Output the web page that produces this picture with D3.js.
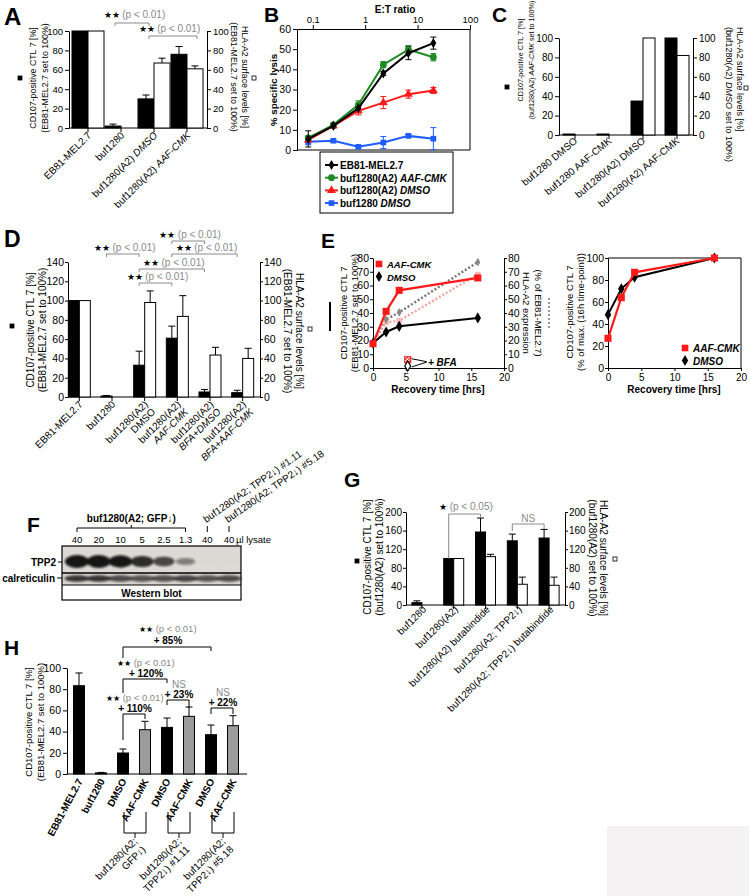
<!DOCTYPE html>
<html>
<head>
<meta charset="utf-8">
<script src="https://cdn.jsdelivr.net/npm/d3@7/dist/d3.min.js"></script>
<style>
html,body{margin:0;padding:0;background:#fff;}
svg{display:block;}
</style>
</head>
<body>
<div id="chart"></div>
<script>
// ================= DATA =================
// Panel A
const aCats = ["EB81-MEL2.7", "buf1280", "buf1280(A2) DMSO", "buf1280(A2) AAF-CMK"];
const aLabelPlain = ["EB81-MEL2.7", "buf1280", "buf1280(A2) ", "buf1280(A2) "];
const aLabelItalic = ["", "", "DMSO", "AAF-CMK"];
const aCD107 = [100, 2, 30, 76];
const aCD107Err = [0, 2, 4, 8];
const aHLA = [100, 0, 67, 61];
const aHLAErr = [0, 0, 5, 3];
const aTicks = [0, 20, 40, 60, 80, 100];

// Panel B
const bRatio = [0.082, 0.247, 0.74, 2.22, 6.67, 20];
const bNamePlain = ["EB81-MEL2.7", "buf1280(A2) ", "buf1280(A2) ", "buf1280 "];
const bNameItalic = ["", "AAF-CMK", "DMSO", "DMSO"];
const bEB81 = [5.5, 12, 20.7, 38, 48, 53];
const bEB81Err = [4, 1, 1.5, 1, 3.2, 3];
const bAAF = [6, 12.5, 22.4, 42.3, 49.8, 46];
const bAAFErr = [1, 1, 2, 1.5, 2, 1.8];
const bDMSO = [5, 12, 19.4, 23.5, 27.7, 29.5];
const bDMSOErr = [1.5, 1, 2, 3, 2, 1.5];
const bBuf = [4.1, 4.6, 1.6, 3.7, 7, 5.6];
const bBufErr = [1.5, 0.6, 0.6, 3, 0.8, 5.5];
const bXTicks = [0.1, 1, 10, 100];
const bYTicks = [0, 10, 20, 30, 40, 50, 60];

// Panel C
const cCats = ["buf1280 DMSO", "buf1280 AAF-CMK", "buf1280(A2) DMSO", "buf1280(A2) AAF-CMK"];
const cCD107 = [1, 1, 35, 100];
const cHLA = [0, 0, 100, 82];
const cTicks = [0, 20, 40, 60, 80, 100];

// Panel D
const dCats = ["EB81-MEL2.7", "buf1280", "buf1280(A2) DMSO", "buf1280(A2) AAF-CMK", "buf1280(A2) BFA+DMSO", "buf1280(A2) BFA+AAF-CMK"];
const dLine1 = ["EB81-MEL2.7", "buf1280", "buf1280(A2)", "buf1280(A2)", "buf1280(A2)", "buf1280(A2)"];
const dLine2 = ["", "", "DMSO", "AAF-CMK", "BFA+DMSO", "BFA+AAF-CMK"];
const dLine2Italic = [false, false, false, true, true, true];
const dCD107 = [100, 1, 33, 61, 5.2, 4.5];
const dCD107Err = [0, 0.5, 14.5, 12.5, 2.5, 2.5];
const dHLA = [100, 0, 98, 83.6, 43.5, 40];
const dHLAErr = [0, 0, 12, 21.5, 8, 10.5];
const dTicks = [0, 20, 40, 60, 80, 100, 120, 140];
const dSigPairs = [[1, 2], [3, 4], [3, 5], [2, 4], [2, 3]];

// Panel E
const eTime = [0, 2, 4, 16];
const eAAF = [17.7, 41.2, 56.5, 65.5];
const eDMSO = [18, 26.2, 30.3, 36.4];
const eHLA_AAF = [18, 33.2, 34.4, 68];
const eHLA_DMSO = [18, 35.2, 40.5, 77];
const eBFATime = 5.3;
const eBFA_AAF = 6;
const eBFA_DMSO = 1.5;
const eNormAAF = [27, 64, 87, 100];
const eNormDMSO = [48.5, 72, 82.5, 100];
const eYTicks = [0, 10, 20, 30, 40, 50, 60, 70, 80];
const eXTicks = [0, 5, 10, 15, 20];
const eNormTicks = [0, 20, 40, 60, 80, 100];

// Panel F (western blot)
const fLanes = ["40", "20", "10", "5", "2.5", "1.3", "40", "40"];
const fTPP2 = [1, 1, 0.95, 0.85, 0.7, 0.45, 0.02, 0.02];
const fCalr = [0.85, 0.85, 0.75, 0.7, 0.72, 0.78, 0.7, 0.75];
const fGFPSample = "buf1280(A2; GFP\u2193)";
const fKDSamples = ["buf1280(A2; TPP2\u2193) #1.11", "buf1280(A2; TPP2\u2193) #5.18"];

// Panel G
const gCats = ["buf1280", "buf1280(A2)", "buf1280(A2) butabindide", "buf1280(A2; TPP2\u2193)", "buf1280(A2; TPP2\u2193) butabindide"];
const gCD107 = [5, 100, 157, 138, 144];
const gCD107Err = [4, 0, 30, 14.5, 18.6];
const gHLA = [0, 100, 104, 44.6, 42.4];
const gHLAErr = [0, 0, 5, 15.4, 17.6];
const gTicks = [0, 40, 80, 120, 160, 200];

// Panel H
const hKeys = ["EB81", "buf1280", "GFP-DMSO", "GFP-AAF", "K111-DMSO", "K111-AAF", "K518-DMSO", "K518-AAF"];
const hLabels = ["EB81-MEL2.7", "buf1280", "DMSO", "AAF-CMK", "DMSO", "AAF-CMK", "DMSO", "AAF-CMK"];
const hValues = [83.3, 1, 19.8, 41.8, 44, 54.4, 37.1, 45.6];
const hErr = [12, 0.5, 3.8, 7.9, 8.8, 8.8, 9.1, 9.4];
const hAAF = [false, false, false, true, false, true, false, true];
const hGroupBars = [[2, 3], [4, 5], [6, 7]];
const hGroupLine1 = ["buf1280(A2;", "buf1280(A2;", "buf1280(A2;"];
const hGroupLine2 = ["GFP\u2193)", "TPP2\u2193) #1.11", "TPP2\u2193) #5.18"];
const hTicks = [0, 20, 40, 60, 80, 100];
const hCompFrom = [2, 2, 4, 6, 2];
const hCompTo = [3, 4, 5, 7, 6];
const hCompChange = ["+ 110%", "+ 120%", "+ 23%", "+ 22%", "+ 85%"];
const hCompSig = ["**", "**", "NS", "NS", "**"];

// ================= DRAWING =================
const FONT = '"Liberation Sans", Arial, Helvetica, sans-serif';
const svg = d3.select("#chart").append("svg")
  .attr("width", 749).attr("height", 896)
  .style("font-family", FONT).style("background", "#fff");

const defs = svg.append("defs");
defs.append("filter").attr("id", "blur").attr("x", "-50%").attr("y", "-80%").attr("width", "200%").attr("height", "260%")
  .append("feGaussianBlur").attr("stdDeviation", 1.3);
const pat = defs.append("pattern").attr("id", "hatch").attr("patternUnits", "userSpaceOnUse").attr("width", 3).attr("height", 3);
pat.append("rect").attr("width", 3).attr("height", 3).attr("fill", "#fff");
pat.append("path").attr("d", "M0,3L3,0").attr("stroke", "#f22").attr("stroke-width", 1.2);

function T(g, x, y, content, o = {}) {
  const t = g.append("text").attr("x", x).attr("y", y)
    .style("font-size", (o.fs || 10) + "px").attr("fill", o.fill || "#000");
  if (o.bold) t.style("font-weight", "bold");
  if (o.italic) t.style("font-style", "italic");
  t.attr("text-anchor", o.anchor || "start");
  if (o.base) t.attr("dominant-baseline", o.base);
  if (o.rot != null) t.attr("transform", `rotate(${o.rot},${x},${y})`);
  const segs = typeof content === "string" ? [{ t: content }] : content;
  segs.forEach(s => {
    if (!s.t) return;
    const ts = t.append("tspan").text(s.t);
    if (s.i) ts.style("font-style", "italic");
    if (s.fill) ts.attr("fill", s.fill);
    if (s.fs) ts.style("font-size", s.fs + "px");
    if (s.b) ts.style("font-weight", "bold");
  });
  return t;
}
function yAxis(g, side, x, y, ticks, fs, ts = 4, pad = 2) {
  const ax = (side === "left" ? d3.axisLeft(y) : d3.axisRight(y))
    .tickValues(ticks).tickSize(ts).tickPadding(pad).tickSizeOuter(0);
  const a = g.append("g").attr("transform", `translate(${x},0)`).call(ax);
  a.attr("font-family", null).attr("font-size", null);
  a.selectAll("text").style("font-size", fs + "px").attr("fill", "#000");
  a.selectAll("line,path").attr("stroke", "#000");
  return a;
}
function xAxis(g, side, yPos, x, ticks, fs, fmt, ts = 4, pad = 2) {
  const ax = (side === "top" ? d3.axisTop(x) : d3.axisBottom(x))
    .tickValues(ticks).tickSize(ts).tickPadding(pad).tickSizeOuter(0);
  if (fmt) ax.tickFormat(fmt);
  const a = g.append("g").attr("transform", `translate(0,${yPos})`).call(ax);
  a.attr("font-family", null).attr("font-size", null);
  a.selectAll("text").style("font-size", fs + "px").attr("fill", "#000");
  a.selectAll("line,path").attr("stroke", "#000");
  return a;
}
function baseline(g, x0, x1, y0, centers) {
  g.append("line").attr("x1", x0).attr("x2", x1).attr("y1", y0).attr("y2", y0).attr("stroke", "#000");
  g.selectAll(null).data(centers).join("line")
    .attr("x1", d => d).attr("x2", d => d).attr("y1", y0).attr("y2", y0 + 4).attr("stroke", "#000");
}
function barSeries(g, centers, vals, errs, w, y, fills) {
  const fillOf = i => Array.isArray(fills) ? fills[i] : fills;
  const data = vals.map((v, i) => ({ v, e: errs ? errs[i] : 0, c: centers[i], i }));
  g.selectAll(null).data(data.filter(d => d.e > 0)).join("path")
    .attr("d", d => `M${d.c},${y(d.v)}V${y(d.v + d.e)}M${d.c - 3.5},${y(d.v + d.e)}H${d.c + 3.5}`)
    .attr("stroke", "#000").attr("fill", "none");
  g.selectAll(null).data(data.filter(d => d.v > 0)).join("rect")
    .attr("x", d => d.c - w / 2).attr("y", d => y(d.v))
    .attr("width", w).attr("height", d => y(0) - y(d.v))
    .attr("fill", d => fillOf(d.i)).attr("stroke", "#000").attr("stroke-width", 1);
}
function rotLabels(g, ends, lines, o) {
  lines.forEach((ls, i) => {
    ls.forEach((segs, k) => {
      const a = (o.rot) * Math.PI / 180;
      const x = ends[i][0] - k * o.lh * Math.sin(a);
      const y = ends[i][1] + k * o.lh * Math.cos(a);
      T(g, x, y, segs, { fs: o.fs, bold: o.bold, anchor: "end", rot: o.rot });
    });
  });
}
function bracket(g, x1, x2, yb, l1, l2, color) {
  g.append("path").attr("d", `M${x1},${l1}V${yb}H${x2}V${l2}`)
    .attr("fill", "none").attr("stroke", color).attr("stroke-width", 1);
}
function sigText(g, cx, yb, stars, p, fs) {
  T(g, cx, yb, [{ t: stars + " ", fs: fs - 1.5 }, { t: p, fill: "#8a8a8a" }], { fs: fs, anchor: "middle" });
}
function squareKey(g, x, y, filled) {
  g.append("rect").attr("x", x - 2).attr("y", y - 2).attr("width", 4).attr("height", 4)
    .attr("fill", filled ? "#000" : "#fff").attr("stroke", "#000").attr("stroke-width", 0.8);
}
function letter(g, x, y, s, fs) { T(g, x, y, s, { fs: fs, bold: true }); }

// ---------- Panel A ----------
{
  const g = svg.append("g");
  letter(g, 4, 25, "A", 24);
  const x = d3.scaleBand().domain(aCats).range([71.5, 203.5]);
  const y = d3.scaleLinear().domain([0, 100]).range([128, 31]);
  const cx = aCats.map(c => x(c) + x.bandwidth() / 2);
  const w = 16;
  yAxis(g, "left", 69, y, aTicks, 9.5);
  yAxis(g, "right", 207, y, aTicks, 9.5);
  baseline(g, 69, 207, y(0), cx);
  barSeries(g, cx.map(c => c - w / 2), aCD107, aCD107Err, w, y, "#000");
  barSeries(g, cx.map(c => c + w / 2), aHLA, aHLAErr, w, y, "#fff");
  rotLabels(g, cx.map(c => [c + 4, y(0) + 8]),
    aCats.map((c, i) => [[{ t: aLabelPlain[i] }, { t: aLabelItalic[i], i: true }]]), { fs: 10, rot: -45, lh: 11 });
  T(g, 33, 78, "CD107-positive CTL 7 [%]", { fs: 8.8, anchor: "middle", base: "central", rot: -90 });
  T(g, 45, 78, "(EB81-MEL2.7 set to 100%)", { fs: 8.8, anchor: "middle", base: "central", rot: -90 });
  squareKey(g, 20, 78, true);
  T(g, 245, 77, "HLA-A2 surface levels [%]", { fs: 8.8, anchor: "middle", base: "central", rot: 90 });
  T(g, 234, 77, "(EB81-MEL2.7 set to 100%)", { fs: 8.8, anchor: "middle", base: "central", rot: 90 });
  squareKey(g, 254, 78, false);
  const bk = cx.map(c => c - w / 2), wh = cx.map(c => c + w / 2);
  bracket(g, bk[1] + 2, bk[2] + 3, 23, 26, 26, "#8a8a8a");
  sigText(g, (bk[1] + bk[2]) / 2 + 5, 17.5, "\u2605\u2605", "(p < 0.01)", 10);
  bracket(g, bk[2] + 3, wh[3] + 2, 36, 39, 39, "#8a8a8a");
  sigText(g, (bk[2] + wh[3]) / 2 - 1, 32, "\u2605\u2605", "(p < 0.01)", 10);
}

// ---------- Panel B ----------
{
  const g = svg.append("g");
  letter(g, 264, 22, "B", 21);
  const x = d3.scaleLog().domain([0.05, 100]).range([297, 470]);
  const y = d3.scaleLinear().domain([0, 60]).range([150, 29]);
  xAxis(g, "top", 29, x, bXTicks, 9.5, d => String(d));
  yAxis(g, "left", 297, y, bYTicks, 10.5);
  g.append("path").attr("d", `M470,29V150H297`).attr("fill", "none").attr("stroke", "#000");
  T(g, 395, 13, "E:T ratio", { fs: 10, bold: true, anchor: "middle" });
  T(g, 273, 90, "% specific lysis", { fs: 9.8, bold: true, anchor: "middle", base: "central", rot: -90 });
  const series = [
    { v: bBuf, e: bBufErr, c: "#1f5cff", sym: d3.symbolSquare, s: 32 },
    { v: bDMSO, e: bDMSOErr, c: "#ff1a1a", sym: d3.symbolTriangle, s: 34 },
    { v: bAAF, e: bAAFErr, c: "#1e8a22", sym: d3.symbolCircle, s: 36 },
    { v: bEB81, e: bEB81Err, c: "#000", sym: d3.symbolDiamond, s: 30 }
  ];
  const line = d3.line().x((d, i) => x(bRatio[i])).y(d => y(d));
  series.forEach(s => {
    g.selectAll(null).data(s.v).join("path")
      .attr("d", (d, i) => {
        const xx = x(bRatio[i]), y1 = y(Math.max(0, d - s.e[i])), y2 = y(d + s.e[i]);
        return `M${xx},${y1}V${y2}M${xx - 3},${y1}H${xx + 3}M${xx - 3},${y2}H${xx + 3}`;
      }).attr("stroke", s.c).attr("fill", "none");
  });
  series.forEach(s => {
    g.append("path").datum(s.v).attr("d", line).attr("fill", "none").attr("stroke", s.c).attr("stroke-width", 2);
    g.selectAll(null).data(s.v).join("path")
      .attr("transform", (d, i) => `translate(${x(bRatio[i])},${y(d)})`)
      .attr("d", d3.symbol().type(s.sym).size(s.s)).attr("fill", s.c);
  });
  g.append("rect").attr("x", 320).attr("y", 152).attr("width", 133).attr("height", 61)
    .attr("fill", "#fff").attr("stroke", "#000");
  const legOrder = [3, 2, 1, 0];
  legOrder.forEach((si, k) => {
    const s = series[si], ly = 165 + k * 12.7;
    g.append("line").attr("x1", 325).attr("x2", 338).attr("y1", ly).attr("y2", ly).attr("stroke", s.c).attr("stroke-width", 2);
    g.append("path").attr("transform", `translate(331.5,${ly})`).attr("d", d3.symbol().type(s.sym).size(s.s)).attr("fill", s.c);
    T(g, 340, ly, [{ t: bNamePlain[k] }, { t: bNameItalic[k], i: true }], { fs: 10, bold: true, base: "central" });
  });
}

// ---------- Panel C ----------
{
  const g = svg.append("g");
  letter(g, 492, 22, "C", 21);
  const x = d3.scaleBand().domain(cCats).range([558, 694]);
  const y = d3.scaleLinear().domain([0, 100]).range([135, 38]);
  const cx = cCats.map(c => x(c) + x.bandwidth() / 2);
  const w = 12;
  yAxis(g, "left", 559, y, cTicks, 10);
  yAxis(g, "right", 693, y, cTicks, 10);
  baseline(g, 559, 693, y(0), cx);
  barSeries(g, cx.map(c => c - w / 2), cCD107, null, w, y, "#000");
  barSeries(g, cx.map(c => c + w / 2), cHLA, null, w, y, "#fff");
  rotLabels(g, cx.map(c => [c + 3, y(0) + 7]), cCats.map(c => [[{ t: c }]]), { fs: 10, rot: -40, lh: 11 });
  T(g, 520, 60, "CD107-positive CTL 7 [%]", { fs: 7.2, anchor: "middle", base: "central", rot: -90 });
  T(g, 531, 60, [{ t: "(buf1280(A2) " }, { t: "AAF-CMK", i: true }, { t: " set to 100%)" }], { fs: 7.2, anchor: "middle", base: "central", rot: -90 });
  squareKey(g, 507, 87, true);
  T(g, 740, 27, "HLA-A2 surface levels [%]", { fs: 9, anchor: "start", base: "central", rot: 90 });
  T(g, 729, 27, [{ t: "(buf1280(A2) " }, { t: "DMSO", i: true }, { t: " set to 100%)" }], { fs: 9, anchor: "start", base: "central", rot: 90 });
  squareKey(g, 746, 88, false);
}

// ---------- Panel D ----------
{
  const g = svg.append("g");
  letter(g, 4, 247, "D", 23);
  const x = d3.scaleBand().domain(dCats).range([63, 259]);
  const y = d3.scaleLinear().domain([0, 140]).range([397, 262]);
  const cx = dCats.map(c => x(c) + x.bandwidth() / 2);
  const w = 11;
  yAxis(g, "left", 68, y, dTicks, 10.5, 3, 1);
  yAxis(g, "right", 260, y, dTicks, 10.5, 3, 1);
  baseline(g, 68, 260, y(0), cx);
  const bk = cx.map(c => c - w / 2);
  barSeries(g, bk, dCD107, dCD107Err, w, y, "#000");
  barSeries(g, cx.map(c => c + w / 2), dHLA, dHLAErr, w, y, "#fff");
  rotLabels(g, cx.map(c => [c + 4, y(0) + 8]),
    dCats.map((c, i) => dLine2[i] ? [[{ t: dLine1[i] }], [{ t: dLine2[i], i: dLine2Italic[i] }]] : [[{ t: dLine1[i] }]]),
    { fs: 10, rot: -45, lh: 10.5 });
  T(g, 30, 330, "CD107-positive CTL 7 [%]", { fs: 10, anchor: "middle", base: "central", rot: -90 });
  T(g, 41.5, 330, "(EB81-MEL2.7 set to 100%)", { fs: 10, anchor: "middle", base: "central", rot: -90 });
  squareKey(g, 12, 326, true);
  T(g, 300, 331, "HLA-A2 surface levels [%]", { fs: 10, anchor: "middle", base: "central", rot: 90 });
  T(g, 288, 331, "(EB81-MEL2.7 set to 100%)", { fs: 10, anchor: "middle", base: "central", rot: 90 });
  squareKey(g, 310, 329, false);
  const levels = [254, 241, 254, 269, 283];
  dSigPairs.forEach((p, k) => {
    const x1 = bk[p[0]], x2 = bk[p[1]];
    bracket(g, x1, x2, levels[k], levels[k] + 3, levels[k] + 3, "#8a8a8a");
    sigText(g, (x1 + x2) / 2 + 2, levels[k] - 3, "\u2605\u2605", "(p < 0.01)", 10);
  });
}

// ---------- Panel E (left) ----------
{
  const g = svg.append("g");
  letter(g, 321, 248, "E", 21);
  const x = d3.scaleLinear().domain([0, 20]).range([373, 504]);
  const y = d3.scaleLinear().domain([0, 80]).range([368, 258]);
  yAxis(g, "left", 373, y, eYTicks, 10.5, 3, 1);
  yAxis(g, "right", 504, y, eYTicks, 10.5, 3, 1);
  xAxis(g, "bottom", 368, x, eXTicks, 10, null, 3, 2.5);
  T(g, 438, 393, "Recovery time [hrs]", { fs: 10, bold: true, anchor: "middle" });
  T(g, 343, 313, "CD107-positive CTL 7", { fs: 9.5, anchor: "middle", base: "central", rot: -90 });
  T(g, 354, 313, "(EB81-MEL2.7 set to 100%)", { fs: 9.5, anchor: "middle", base: "central", rot: -90 });
  g.append("line").attr("x1", 330).attr("x2", 330).attr("y1", 302).attr("y2", 331).attr("stroke", "#000").attr("stroke-width", 2);
  T(g, 527, 313, "HLA-A2 expression", { fs: 9.5, anchor: "middle", base: "central", rot: 90 });
  T(g, 539, 313, "(% of EB81-MEL2.7)", { fs: 9.5, anchor: "middle", base: "central", rot: 90 });
  g.append("line").attr("x1", 549).attr("x2", 549).attr("y1", 298).attr("y2", 330).attr("stroke", "#999").attr("stroke-width", 2).attr("stroke-dasharray", "2,2");
  const line = d3.line().x((d, i) => x(eTime[i])).y(d => y(d));
  g.append("path").datum(eHLA_DMSO).attr("d", line).attr("fill", "none").attr("stroke", "#7a7a7a").attr("stroke-width", 2.5).attr("stroke-dasharray", "2,2");
  g.append("path").datum(eHLA_AAF).attr("d", line).attr("fill", "none").attr("stroke", "#f6a3a3").attr("stroke-width", 2.5).attr("stroke-dasharray", "2,2");
  g.selectAll(null).data(eHLA_AAF.slice(1)).join("path")
    .attr("transform", (d, i) => `translate(${x(eTime[i + 1])},${y(d)})`)
    .attr("d", d3.symbol().type(d3.symbolSquare).size(30)).attr("fill", "#f7b9b9");
  g.selectAll(null).data(eHLA_DMSO.slice(1)).join("path")
    .attr("transform", (d, i) => `translate(${x(eTime[i + 1])},${y(d)})`)
    .attr("d", d3.symbol().type(d3.symbolDiamond).size(22)).attr("fill", "#8a8a8a");
  g.append("path").datum(eDMSO).attr("d", line).attr("fill", "none").attr("stroke", "#000").attr("stroke-width", 2);
  g.selectAll(null).data(eDMSO).join("path")
    .attr("transform", (d, i) => `translate(${x(eTime[i])},${y(d)})`)
    .attr("d", d3.symbol().type(d3.symbolDiamond).size(36)).attr("fill", "#000");
  g.append("path").datum(eAAF).attr("d", line).attr("fill", "none").attr("stroke", "#ff1a1a").attr("stroke-width", 2.2);
  g.selectAll(null).data(eAAF).join("path")
    .attr("transform", (d, i) => `translate(${x(eTime[i])},${y(d)})`)
    .attr("d", d3.symbol().type(d3.symbolSquare).size(50)).attr("fill", "#ff1a1a");
  g.append("rect").attr("x", x(eBFATime) - 3).attr("y", y(eBFA_AAF) - 3).attr("width", 6).attr("height", 6)
    .attr("fill", "url(#hatch)").attr("stroke", "#f22").attr("stroke-width", 1.2);
  g.append("path").attr("transform", `translate(${x(eBFATime)},${y(eBFA_DMSO)})`)
    .attr("d", d3.symbol().type(d3.symbolDiamond).size(30)).attr("fill", "#fff").attr("stroke", "#000").attr("stroke-width", 1.2);
  g.append("path").attr("d", `M${x(eBFATime) + 4},${y(eBFA_AAF) - 1}L${x(eBFATime) + 19},${y(4.6)}M${x(eBFATime) + 4},${y(eBFA_DMSO) + 1}L${x(eBFATime) + 19},${y(4.3)}`)
    .attr("stroke", "#000").attr("fill", "none");
  T(g, 428, y(4.5), "+ BFA", { fs: 10, bold: true, italic: true, base: "central" });
  g.append("path").attr("transform", "translate(379,264)").attr("d", d3.symbol().type(d3.symbolSquare).size(44)).attr("fill", "#ff1a1a");
  T(g, 387, 264, "AAF-CMK", { fs: 9.5, bold: true, italic: true, base: "central" });
  g.append("path").attr("transform", "translate(379,276.5)").attr("d", d3.symbol().type(d3.symbolDiamond).size(36)).attr("fill", "#000");
  T(g, 387, 276.5, "DMSO", { fs: 9.5, bold: true, italic: true, base: "central" });
}

// ---------- Panel E (right) ----------
{
  const g = svg.append("g");
  const x = d3.scaleLinear().domain([0, 20]).range([608, 741]);
  const y = d3.scaleLinear().domain([0, 100]).range([368, 258]);
  yAxis(g, "left", 608, y, eNormTicks, 10.5, 3, 1);
  xAxis(g, "bottom", 368, x, eXTicks, 10, null, 3, 2.5);
  g.append("path").attr("d", "M608,258H741V368").attr("fill", "none").attr("stroke", "#000");
  T(g, 674, 393, "Recovery time [hrs]", { fs: 10, bold: true, anchor: "middle" });
  T(g, 569, 312, "CD107-positive CTL 7", { fs: 9.5, anchor: "middle", base: "central", rot: -90 });
  T(g, 580, 312, "(% of max. (16h time-point))", { fs: 9.5, anchor: "middle", base: "central", rot: -90 });
  const line = d3.line().x((d, i) => x(eTime[i])).y(d => y(d));
  g.append("path").datum(eNormDMSO).attr("d", line).attr("fill", "none").attr("stroke", "#000").attr("stroke-width", 2);
  g.selectAll(null).data(eNormDMSO).join("path")
    .attr("transform", (d, i) => `translate(${x(eTime[i])},${y(d)})`)
    .attr("d", d3.symbol().type(d3.symbolDiamond).size(36)).attr("fill", "#000");
  g.append("path").datum(eNormAAF).attr("d", line).attr("fill", "none").attr("stroke", "#ff1a1a").attr("stroke-width", 2.2);
  g.selectAll(null).data(eNormAAF).join("path")
    .attr("transform", (d, i) => `translate(${x(eTime[i])},${y(d)})`)
    .attr("d", d3.symbol().type(d3.symbolSquare).size(50)).attr("fill", "#ff1a1a");
  g.append("path").attr("transform", "translate(685,348)").attr("d", d3.symbol().type(d3.symbolSquare).size(44)).attr("fill", "#ff1a1a");
  T(g, 693, 348, "AAF-CMK", { fs: 10, bold: true, italic: true, base: "central" });
  g.append("path").attr("transform", "translate(685,360.5)").attr("d", d3.symbol().type(d3.symbolDiamond).size(36)).attr("fill", "#000");
  T(g, 693, 360.5, "DMSO", { fs: 10, bold: true, italic: true, base: "central" });
}

// ---------- Panel F ----------
{
  const g = svg.append("g");
  letter(g, 27, 532, "F", 21);
  const x = d3.scalePoint().domain(d3.range(fLanes.length)).range([77, 229]);
  T(g, (x(0) + x(5)) / 2, 522, fGFPSample, { fs: 10, bold: true, anchor: "middle" });
  g.append("path").attr("d", `M${x(0)},532V528H${x(5)}V532M${(x(0) + x(5)) / 2},528V525`).attr("fill", "none").attr("stroke", "#000");
  g.append("path").attr("d", `M${x(6)},526V532M${x(7)},526V532`).attr("stroke", "#000");
  fKDSamples.forEach((s, k) => T(g, x(6 + k) - 1, 523, s, { fs: 10, rot: -35 }));
  fLanes.forEach((l, i) => T(g, x(i), 543, l, { fs: 9.5, anchor: "middle" }));
  T(g, 236, 543, "\u00b5l lysate", { fs: 9.5 });
  g.append("rect").attr("x", 62).attr("y", 546).attr("width", 179).attr("height", 27).attr("fill", "#dcdad4");
  g.append("rect").attr("x", 62).attr("y", 573).attr("width", 179).attr("height", 12).attr("fill", "#d6d4ce");
  const bands = g.append("g").attr("filter", "url(#blur)");
  bands.selectAll(null).data(fTPP2).join("ellipse")
    .attr("cx", (d, i) => x(i)).attr("cy", 561.5)
    .attr("rx", d => 8 + 4 * d).attr("ry", d => 1.2 + 5.2 * d)
    .attr("fill", "#141414").attr("opacity", d => Math.min(1, d * 1.05));
  bands.selectAll(null).data(fCalr).join("ellipse")
    .attr("cx", (d, i) => x(i)).attr("cy", 578.5)
    .attr("rx", 12.5).attr("ry", 3.3)
    .attr("fill", "#1a1a1a").attr("opacity", d => d);
  g.append("line").attr("x1", 62).attr("x2", 241).attr("y1", 573).attr("y2", 573).attr("stroke", "#000").attr("stroke-width", 1.6);
  g.append("line").attr("x1", 62).attr("x2", 241).attr("y1", 585).attr("y2", 585).attr("stroke", "#000").attr("stroke-width", 1);
  g.append("rect").attr("x", 62).attr("y", 546).attr("width", 179).attr("height", 54).attr("fill", "none").attr("stroke", "#000").attr("stroke-width", 1.2);
  T(g, 151.5, 596.5, "Western blot", { fs: 10, bold: true, anchor: "middle" });
  T(g, 56, 565.5, "TPP2", { fs: 10, bold: true, anchor: "end" });
  g.append("line").attr("x1", 58).attr("x2", 62).attr("y1", 562).attr("y2", 562).attr("stroke", "#000");
  T(g, 55, 581.5, "calreticulin", { fs: 10, bold: true, anchor: "end" });
  g.append("line").attr("x1", 57).attr("x2", 62).attr("y1", 578).attr("y2", 578).attr("stroke", "#000");
}

// ---------- Panel G ----------
{
  const g = svg.append("g");
  letter(g, 344, 487, "G", 21);
  const x = d3.scaleBand().domain(gCats).range([406, 565]);
  const y = d3.scaleLinear().domain([0, 200]).range([605, 512]);
  const cx = gCats.map(c => x(c) + x.bandwidth() / 2);
  const w = 10;
  yAxis(g, "left", 406, y, gTicks, 10, 3, 1);
  yAxis(g, "right", 565, y, gTicks, 10, 3, 1);
  baseline(g, 406, 565, y(0), cx);
  const bk = cx.map(c => c - w / 2);
  barSeries(g, bk, gCD107, gCD107Err, w, y, "#000");
  barSeries(g, cx.map(c => c + w / 2), gHLA, gHLAErr, w, y, "#fff");
  rotLabels(g, cx.map(c => [c + 5, y(0) + 5]), gCats.map(c => [[{ t: c }]]), { fs: 10, rot: -45, lh: 11 });
  T(g, 367, 557, "CD107-positive CTL 7 [%]", { fs: 10, anchor: "middle", base: "central", rot: -90 });
  T(g, 379, 557, "(buf1280(A2) set to 100%)", { fs: 10, anchor: "middle", base: "central", rot: -90 });
  squareKey(g, 357, 561, true);
  T(g, 604, 558, "HLA-A2 surface levels [%]", { fs: 10, anchor: "middle", base: "central", rot: 90 });
  T(g, 593, 558, "(buf1280(A2) set to 100%)", { fs: 10, anchor: "middle", base: "central", rot: 90 });
  squareKey(g, 615, 559, false);
  bracket(g, bk[1], bk[2], 514, y(gCD107[1]), 518, "#8a8a8a");
  T(g, 466, 509.5, [{ t: "\u2605 ", fs: 9 }, { t: "(p < 0.05)", fill: "#8a8a8a" }], { fs: 10, anchor: "middle" });
  bracket(g, bk[3], bk[4], 524, 531, 529, "#8a8a8a");
  T(g, (bk[3] + bk[4]) / 2, 521.5, "NS", { fs: 10, anchor: "middle", fill: "#8a8a8a" });
}

// ---------- Panel H ----------
{
  const g = svg.append("g");
  letter(g, 4, 655, "H", 21);
  const x = d3.scaleBand().domain(hKeys).range([68, 244]);
  const y = d3.scaleLinear().domain([0, 100]).range([774, 668]);
  const cx = hKeys.map(k => x(k) + x.bandwidth() / 2);
  yAxis(g, "left", 67, y, hTicks, 10.5);
  g.append("line").attr("x1", 67).attr("x2", 247).attr("y1", y(0)).attr("y2", y(0)).attr("stroke", "#000");
  barSeries(g, cx, hValues, hErr, 11, y, hAAF.map(a => a ? "#9b9b9b" : "#000"));
  rotLabels(g, cx.map(c => [c + 4, y(0) + 7]), hLabels.map(l => [[{ t: l }]]), { fs: 10, bold: true, rot: -62, lh: 11 });
  T(g, 28, 722, "CD107-positive CTL 7 [%]", { fs: 9.5, anchor: "middle", base: "central", rot: -90 });
  T(g, 40, 722, "(EB81-MEL2.7 set to 100%)", { fs: 9.5, anchor: "middle", base: "central", rot: -90 });
  hGroupBars.forEach((p, k) => {
    const x1 = cx[p[0]] + 1, x2 = cx[p[1]] + 1, m = (x1 + x2) / 2;
    g.append("path").attr("d", `M${x1},812V833H${x2}V812M${m},833V838`).attr("fill", "none").attr("stroke", "#000");
    rotLabels(g, [[m + 3, 842]], [[[{ t: hGroupLine1[k] }], [{ t: hGroupLine2[k] }]]], { fs: 10, rot: -45, lh: 11.5 });
  });
  const bY = [714, 679, 700, 708, 647], legL = [740, 693, 705, 714, 658], legR = [719, 683, 708, 714, 651];
  const chgDY = [2.5, 2, 2.5, 2.5, 3.5];
  const sigDY = [13, 13, 12, 12, 15.5];
  hCompFrom.forEach((f, k) => {
    const x1 = cx[f], x2 = cx[hCompTo[k]], m = (x1 + x2) / 2;
    bracket(g, x1, x2, bY[k], legL[k], legR[k], "#000");
    T(g, m + 1, bY[k] - chgDY[k], hCompChange[k], { fs: 10, bold: true, anchor: "middle" });
    if (hCompSig[k] === "NS") T(g, m + 1, bY[k] - sigDY[k], "NS", { fs: 10, anchor: "middle", fill: "#8a8a8a" });
    else sigText(g, m + 1, bY[k] - sigDY[k], "\u2605\u2605", "(p < 0.01)", 9.5);
  });
}

svg.append("rect").attr("x", 607).attr("y", 826).attr("width", 142).attr("height", 70).attr("fill", "#f4f2f2");
</script>
</body>
</html>
